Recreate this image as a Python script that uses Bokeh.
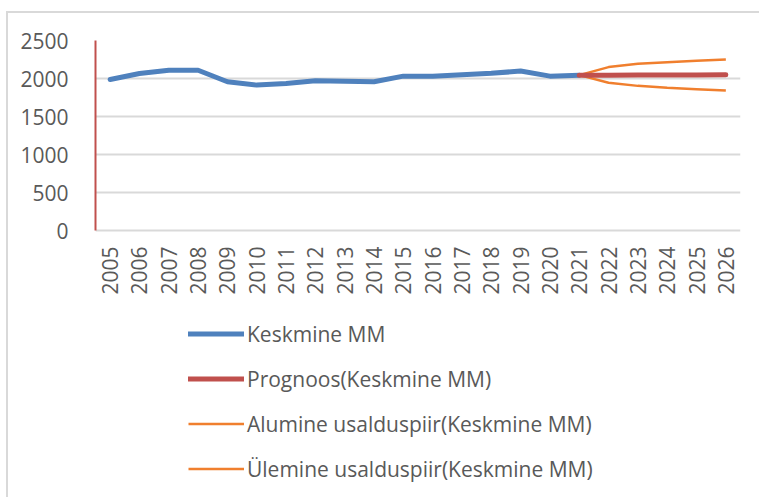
import math
from bokeh.plotting import figure
from bokeh.models import Legend, LegendItem, FactorRange, Range1d, FixedTicker
from bokeh.embed import file_html
from bokeh.resources import INLINE

years = [str(y) for y in range(2005, 2027)]
hist_years = years[:17]          # 2005-2021
hist_values = [1987, 2065, 2108, 2108, 1957, 1913, 1935, 1970, 1965, 1957,
               2031, 2031, 2048, 2068, 2098, 2031, 2044]
fc_years = years[16:]            # 2021-2026
forecast = [2044, 2044, 2045, 2046, 2047, 2048]
lower = [2044, 1943, 1903, 1877, 1860, 1842]
upper = [2044, 2150, 2195, 2215, 2233, 2250]
y_ticks = [0, 500, 1000, 1500, 2000, 2500]

labels = ["Keskmine MM", "Prognoos(Keskmine MM)",
          "Alumine usalduspiir(Keskmine MM)", "Ülemine usalduspiir(Keskmine MM)"]

BLUE = "#4F81BD"
RED = "#C0504D"
ORANGE = "#F07F2E"
TXT = "#595959"
GRID = "#D9D9D9"
FONT = "Open Sans"

# layout (pixels): value axis 0..2500 spans 190 px; frame extends below it
# so that the legend can live inside the frame
W, H = 759, 497
TOP, LEFT, RIGHT, BOTTOM = 40, 95, 19, 5
AXIS_PX = 190.0
frame_h = H - TOP - BOTTOM
y_max = y_ticks[-1]
y_min = y_max - y_max * frame_h / AXIS_PX

p = figure(width=W, height=H, output_backend="svg", toolbar_location=None,
           x_range=FactorRange(factors=years, range_padding=0),
           y_range=Range1d(y_min, y_max),
           min_border_left=LEFT, min_border_right=RIGHT, min_border_top=TOP,
           min_border_bottom=BOTTOM,
           styles={"background": "linear-gradient(#D9D9D9,#D9D9D9) 6px 11px / 2px 100% no-repeat, "
                                 "linear-gradient(#D9D9D9,#D9D9D9) 6px 11px / 100% 2px no-repeat, white"})
p.outline_line_color = None
p.background_fill_alpha = 0
p.border_fill_alpha = 0

p.xgrid.grid_line_color = None
p.ygrid.grid_line_color = GRID
p.ygrid.grid_line_width = 2
p.yaxis.ticker = FixedTicker(ticks=y_ticks)
p.yaxis.bounds = (0, y_max)

p.yaxis.axis_line_color = RED
p.yaxis.axis_line_width = 2
p.yaxis.major_tick_line_color = None
p.yaxis.minor_tick_line_color = None
p.yaxis.major_label_standoff = 21
p.xaxis.fixed_location = 0
p.xaxis.axis_line_color = None
p.xaxis.major_tick_line_color = None
p.xaxis.minor_tick_line_color = None
p.xaxis.major_label_orientation = math.pi / 2
p.xaxis.major_label_standoff = 10
for ax in (p.xaxis, p.yaxis):
    ax.major_label_text_font = FONT
    ax.major_label_text_font_size = "21px"
    ax.major_label_text_color = TXT

r_hist = p.line(hist_years, hist_values, line_color=BLUE, line_width=5,
                line_cap="round", line_join="round")
r_low = p.line(fc_years, lower, line_color=ORANGE, line_width=2.5)
r_up = p.line(fc_years, upper, line_color=ORANGE, line_width=2.5)
r_fc = p.line(fc_years, forecast, line_color=RED, line_width=5, line_cap="round")

legend = Legend(items=[LegendItem(label=labels[0], renderers=[r_hist]),
                       LegendItem(label=labels[1], renderers=[r_fc]),
                       LegendItem(label=labels[2], renderers=[r_low]),
                       LegendItem(label=labels[3], renderers=[r_up])],
                location=(93, 9), orientation="vertical",
                glyph_width=56, glyph_height=29, label_height=29,
                label_standoff=3, spacing=16, padding=0, margin=0,
                border_line_color=None, background_fill_alpha=0,
                label_text_font=FONT, label_text_font_size="21px",
                label_text_color=TXT)
p.add_layout(legend, "center")

open("out.html", "w").write(file_html(p, INLINE))
